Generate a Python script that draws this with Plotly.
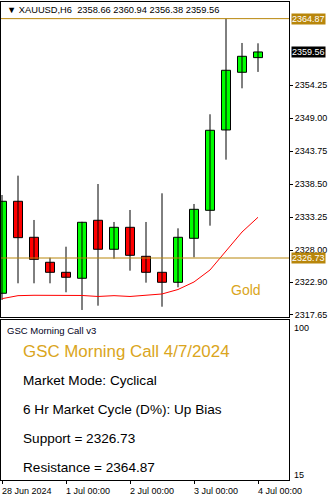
import plotly.graph_objects as go

# ---------------- data ----------------
times = ["2024-06-28 00:00", "2024-06-28 06:00", "2024-06-28 12:00", "2024-06-28 18:00",
         "2024-07-01 00:00", "2024-07-01 06:00", "2024-07-01 12:00", "2024-07-01 18:00",
         "2024-07-02 00:00", "2024-07-02 06:00", "2024-07-02 12:00", "2024-07-02 18:00",
         "2024-07-03 00:00", "2024-07-03 06:00", "2024-07-03 12:00", "2024-07-03 18:00",
         "2024-07-04 00:00"]
opens  = [2321.11, 2335.77, 2330.03, 2326.05, 2324.45, 2323.50, 2332.74, 2328.12, 2331.62,
          2327.00, 2324.45, 2322.86, 2329.87, 2334.33, 2347.13, 2356.32, 2358.66]
highs  = [2336.77, 2339.85, 2332.79, 2326.78, 2328.53, 2332.50, 2338.52, 2332.47, 2334.38,
          2332.47, 2337.04, 2331.46, 2335.34, 2349.63, 2364.87, 2360.99, 2360.94]
lows   = [2320.04, 2322.70, 2322.70, 2322.70, 2321.27, 2318.45, 2319.13, 2326.62, 2324.71,
          2322.80, 2318.97, 2322.06, 2326.84, 2331.88, 2342.40, 2353.77, 2356.38]
closes = [2335.77, 2329.97, 2326.52, 2324.45, 2323.66, 2332.42, 2328.12, 2331.62, 2327.16,
          2324.45, 2322.86, 2330.03, 2334.49, 2347.08, 2356.64, 2358.87, 2359.56]
ma_values = [2320.25, 2320.73, 2320.79, 2320.76, 2320.76, 2320.76, 2320.60, 2320.73, 2320.60,
             2320.76, 2321.00, 2321.71, 2322.91, 2324.82, 2327.85, 2330.87, 2333.22]

support = 2326.73
resistance = 2364.87
last_price = 2359.56

x_tick_idx = [0, 4, 8, 12, 16]
x_tick_labels = ["28 Jun 2024", "1 Jul 00:00", "2 Jul 00:00", "3 Jul 00:00", "4 Jul 00:00"]
y_tick_vals = [2354.25, 2349.00, 2343.75, 2338.50, 2333.25, 2328.00, 2322.90, 2317.65]
y_tick_text = ["2354.25", "2349.00", "2343.75", "2338.50", "2333.25", "2328.00", "2322.90", "2317.65"]

header = "\u25BC XAUUSD,H6  2358.66 2360.94 2356.38 2359.56"
panel_title = "GSC Morning Call v3"
info_title = "GSC Morning Call 4/7/2024"
info_lines = ["Market Mode: Cyclical",
              "6 Hr Market Cycle (D%): Up Bias",
              "Support = 2326.73",
              "Resistance = 2364.87"]
sub_axis_labels = ["100", "15"]

# ---------------- styles ----------------
FONT = "Liberation Sans, Arial, sans-serif"
GOLD_LINE = "#B8860B"
GOLD_TEXT = "#DAA520"
W, H = 330, 498
L, R, T, B = 1, 289, 2, 480   # plot area in pixels


def py(pix):
    return (B - pix) / (B - T)


def px(pix):
    return (pix - L) / (R - L)


idx = list(range(len(times)))

fig = go.Figure()

# wicks
wx, wy = [], []
for i in idx:
    wx += [i, i, None]
    wy += [lows[i], highs[i], None]
fig.add_trace(go.Scatter(x=wx, y=wy, mode="lines", line=dict(color="black", width=1),
                         hoverinfo="skip", showlegend=False, xaxis="x", yaxis="y"))

# bodies
up = [i for i in idx if closes[i] >= opens[i]]
dn = [i for i in idx if closes[i] < opens[i]]
for sel, col in ((up, "#00FF00"), (dn, "#FF0000")):
    fig.add_trace(go.Bar(
        x=sel,
        base=[min(opens[i], closes[i]) for i in sel],
        y=[abs(closes[i] - opens[i]) for i in sel],
        width=0.5625,
        marker=dict(color=col, line=dict(color="black", width=1)),
        showlegend=False, hoverinfo="skip", xaxis="x", yaxis="y"))

# moving average
fig.add_trace(go.Scatter(x=idx, y=ma_values, mode="lines", line=dict(color="#FF0000", width=1),
                         showlegend=False, hoverinfo="skip", xaxis="x", yaxis="y"))

# empty trace for lower panel
fig.add_trace(go.Scatter(x=[idx[0]], y=[50], mode="markers", marker=dict(opacity=0),
                         showlegend=False, hoverinfo="skip", xaxis="x2", yaxis="y2"))

xr = [-0.0625, len(times) + 0.9375]
yr = [2317.33, 2367.52]

main_bottom = py(317)
sub_top = py(320)

fig.update_layout(
    width=W, height=H,
    margin=dict(l=L, r=W - R, t=T, b=H - B),
    paper_bgcolor="white", plot_bgcolor="white",
    barmode="overlay",
    font=dict(family=FONT, size=9, color="black"),
    xaxis=dict(domain=[0, 1], range=xr, showgrid=False, zeroline=False, showline=True,
               linecolor="black", linewidth=1, mirror=True, showticklabels=False, ticks="",
               anchor="y"),
    yaxis=dict(domain=[main_bottom, 1], range=yr, side="right", showgrid=False, zeroline=False,
               showline=True, linecolor="black", linewidth=1, mirror=True,
               tickvals=y_tick_vals, ticktext=y_tick_text, ticks="outside", ticklen=3,
               tickcolor="black", tickfont=dict(family=FONT, size=9, color="black"),
               anchor="x"),
    xaxis2=dict(domain=[0, 1], range=xr, showgrid=False, zeroline=False, showline=True,
                linecolor="black", linewidth=1, mirror=True, showticklabels=False,
                tickvals=x_tick_idx, ticks="outside", ticklen=3, tickcolor="black",
                anchor="y2"),
    yaxis2=dict(domain=[0, sub_top], range=[15, 100], side="right", showgrid=False,
                zeroline=False, showline=True, linecolor="black", linewidth=1, mirror=True,
                showticklabels=False, ticks="", anchor="x2"),
)

# support / resistance lines
for lvl in (resistance, support):
    fig.add_shape(type="line", xref="paper", x0=0, x1=1, yref="y", y0=lvl, y1=lvl,
                  line=dict(color=GOLD_LINE, width=1))

ann = []
# price labels in boxes
for lvl, bg in ((resistance, GOLD_LINE), (last_price, "black"), (support, GOLD_LINE)):
    ann.append(dict(xref="paper", x=1, xanchor="left", xshift=2, yref="y", y=lvl,
                    yanchor="middle", text=f"{lvl:.2f}", showarrow=False, bgcolor=bg,
                    borderpad=0, font=dict(family=FONT, size=9, color="white")))

# header
ann.append(dict(xref="paper", x=px(5), xanchor="left", yref="paper", y=py(10), yanchor="middle",
                text=header, showarrow=False, font=dict(family=FONT, size=9.3, color="black")))
# Gold text
ann.append(dict(xref="paper", x=px(229), xanchor="left", yref="paper", y=py(290),
                yanchor="middle", text="Gold", showarrow=False,
                font=dict(family=FONT, size=14, color=GOLD_TEXT)))
# lower panel texts
ann.append(dict(xref="paper", x=px(5), xanchor="left", yref="paper", y=py(330), yanchor="middle",
                text=panel_title, showarrow=False, font=dict(family=FONT, size=9.5, color="#000020")))
ann.append(dict(xref="paper", x=px(21), xanchor="left", yref="paper", y=py(351), yanchor="middle",
                text=info_title, showarrow=False, font=dict(family=FONT, size=16.9, color=GOLD_TEXT)))
for k, line in enumerate(info_lines):
    ann.append(dict(xref="paper", x=px(21), xanchor="left", yref="paper", y=py(380 + 29.3 * k),
                    yanchor="middle", text=line, showarrow=False,
                    font=dict(family=FONT, size=13.6, color="black")))
# lower panel axis labels
for lab, ypix in zip(sub_axis_labels, (328, 475)):
    ann.append(dict(xref="paper", x=1, xanchor="left", xshift=3, yref="paper", y=py(ypix),
                    yanchor="middle", text=lab, showarrow=False,
                    font=dict(family=FONT, size=9, color="black")))
# x axis labels
for i, lab in zip(x_tick_idx, x_tick_labels):
    ann.append(dict(xref="x2", x=i, xanchor="left", xshift=-2, yref="paper", y=py(491),
                    yanchor="middle", text=lab, showarrow=False,
                    font=dict(family=FONT, size=9, color="black")))

fig.update_layout(annotations=ann)

fig.write_html(
    "out.html",
    config={"displayModeBar": False},
    post_script="document.body.style.margin='0';document.body.style.padding='0';"
                "document.documentElement.style.margin='0';",
)
